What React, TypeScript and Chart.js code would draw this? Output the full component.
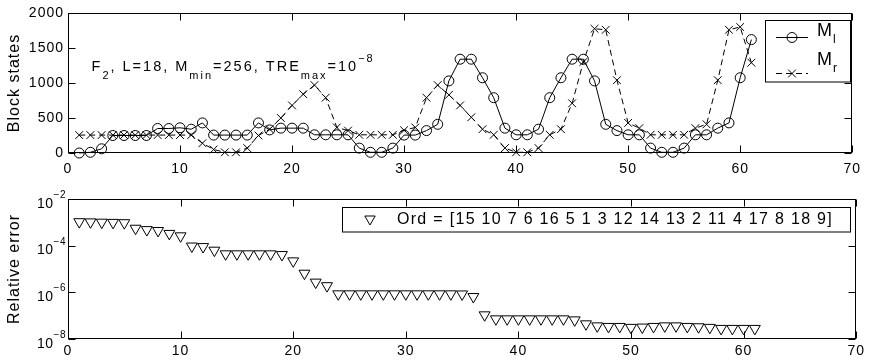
import React, { useEffect, useRef } from 'react';
import { Chart, registerables } from 'chart.js';

Chart.register(...registerables);

const FONT = '"Liberation Sans", Arial, Helvetica, sans-serif';

// ---- data ----
const steps = [
  1, 2, 3, 4, 5, 6, 7, 8, 9, 10, 11, 12, 13, 14, 15, 16, 17, 18, 19, 20,
  21, 22, 23, 24, 25, 26, 27, 28, 29, 30, 31, 32, 33, 34, 35, 36, 37, 38, 39, 40,
  41, 42, 43, 44, 45, 46, 47, 48, 49, 50, 51, 52, 53, 54, 55, 56, 57, 58, 59, 60, 61,
];

const blockStatesLeft = [
  0, 10, 60, 250, 250, 250, 250, 350, 350, 360,
  340, 430, 256, 256, 256, 256, 430, 330, 355, 355,
  355, 260, 260, 260, 260, 70, 10, 10, 70, 256,
  256, 320, 410, 1030, 1340, 1340, 1075, 790, 355, 260,
  260, 340, 790, 1075, 1340, 1340, 1030, 410, 320, 260,
  260, 70, 10, 10, 70, 260, 260, 355, 430, 1075,
  1620,
];

const blockStatesRight = [
  256, 256, 256, 256, 256, 256, 256, 256, 256, 256,
  256, 140, 50, 10, 10, 70, 250, 340, 500, 680,
  840, 970, 790, 365, 320, 260, 260, 260, 260, 325,
  365, 790, 970, 830, 680, 510, 340, 260, 70, 10,
  10, 70, 260, 340, 710, 1300, 1775, 1760, 1040, 430,
  355, 260, 260, 260, 260, 355, 410, 1040, 1760, 1800,
  1290,
];

const relativeError = [
  1.05e-3, 1.03e-3, 1.0e-3, 9.8e-4, 9.5e-4, 5.5e-4, 4.8e-4, 4.4e-4, 3.3e-4, 2.6e-4,
  9.5e-5, 9.0e-5, 6.3e-5, 4.4e-5, 4.4e-5, 4.4e-5, 4.4e-5, 4.4e-5, 4.1e-5, 2.2e-5,
  6.5e-6, 2.7e-6, 1.9e-6, 8.5e-7, 8.5e-7, 8.5e-7, 8.5e-7, 8.5e-7, 8.5e-7, 8.5e-7,
  8.5e-7, 8.5e-7, 8.5e-7, 8.5e-7, 8.4e-7, 6.5e-7, 1.07e-7, 7.2e-8, 7.2e-8, 7.2e-8,
  7.2e-8, 7.2e-8, 7.2e-8, 7.2e-8, 6.5e-8, 4.4e-8, 3.6e-8, 3.4e-8, 3.4e-8, 3.1e-8,
  3.2e-8, 3.4e-8, 3.6e-8, 3.6e-8, 3.4e-8, 3.3e-8, 3.1e-8, 2.8e-8, 2.8e-8, 2.8e-8,
  2.8e-8,
];

const stepTicks = [0, 10, 20, 30, 40, 50, 60, 70];
const blockTicks = [0, 500, 1000, 1500, 2000];
const errorExponents = [-8, -6, -4, -2];

const topLegendSubscripts = ['l', 'r'];
const ordLabel = 'Ord = [15 10 7 6 16 5 1 3 12 14 13 2 11 4 17 8 18 9]';
const topYTitle = 'Block states';
const bottomYTitle = 'Relative error';

type Seg = { text: string; kind: 'main' | 'sub' | 'sup' };
const annotationSegments: Seg[] = [
  { text: 'F', kind: 'main' },
  { text: '2', kind: 'sub' },
  { text: ', L=18, M', kind: 'main' },
  { text: 'min', kind: 'sub' },
  { text: '=256, TRE', kind: 'main' },
  { text: 'max', kind: 'sub' },
  { text: '=10', kind: 'main' },
  { text: '\u22128', kind: 'sup' },
];
const annotationAnchor = { x: 2.1, y: 1175 };

// ---- helpers ----
function setSpacing(ctx: any, v: string) {
  try { ctx.letterSpacing = v; } catch (e) { /* ignore */ }
}

function drawCrossRot(ctx: CanvasRenderingContext2D, x: number, y: number, r: number) {
  const o = r * Math.SQRT1_2;
  ctx.beginPath();
  ctx.moveTo(x - o, y - o); ctx.lineTo(x + o, y + o);
  ctx.moveTo(x - o, y + o); ctx.lineTo(x + o, y - o);
  ctx.stroke();
}

function drawDownTriangle(ctx: CanvasRenderingContext2D, x: number, y: number, r: number) {
  ctx.beginPath();
  ctx.moveTo(x, y + r);
  ctx.lineTo(x - r * 0.866, y - r / 2);
  ctx.lineTo(x + r * 0.866, y - r / 2);
  ctx.closePath();
  ctx.stroke();
}

const spacingPlugin = {
  id: 'spacing',
  beforeUpdate(chart: any) { setSpacing(chart.ctx, '1px'); },
  beforeDraw(chart: any) { setSpacing(chart.ctx, '1px'); },
};

const framePlugin = {
  id: 'matlabFrame',
  afterDraw(chart: any) {
    const { ctx, chartArea: a } = chart;
    const xs = chart.scales.x;
    const ys = chart.scales.y;
    ctx.save();
    ctx.strokeStyle = '#000';
    ctx.lineWidth = 1;
    ctx.setLineDash([]);
    const L = Math.round(a.left) + 0.5;
    const R = Math.round(a.right) - 0.5;
    const T = Math.round(a.top) + 0.5;
    const B = Math.round(a.bottom) - 0.5;
    ctx.strokeRect(L, T, R - L, B - T);
    ctx.beginPath();
    for (const t of xs.ticks) {
      const p = Math.round(xs.getPixelForValue(t.value)) + 0.5;
      ctx.moveTo(p, B); ctx.lineTo(p, B - 7);
      ctx.moveTo(p, T); ctx.lineTo(p, T + 7);
    }
    for (const t of ys.ticks) {
      const p = Math.round(ys.getPixelForValue(t.value)) + 0.5;
      ctx.moveTo(L, p); ctx.lineTo(L + 7, p);
      ctx.moveTo(R, p); ctx.lineTo(R - 7, p);
    }
    ctx.stroke();
    ctx.restore();
  },
};

const annotationPlugin = {
  id: 'annotation',
  afterDraw(chart: any) {
    const { ctx } = chart;
    const xs = chart.scales.x;
    const ys = chart.scales.y;
    let cx = xs.getPixelForValue(annotationAnchor.x);
    const by = ys.getPixelForValue(annotationAnchor.y);
    ctx.save();
    setSpacing(ctx, '2px');
    ctx.fillStyle = '#000';
    ctx.textAlign = 'left';
    ctx.textBaseline = 'alphabetic';
    for (const s of annotationSegments) {
      const size = s.kind === 'main' ? 14.5 : 11;
      const dy = s.kind === 'sub' ? 8.5 : s.kind === 'sup' ? -9 : 0;
      ctx.font = `${size}px ${FONT}`;
      ctx.fillText(s.text, cx, by + dy);
      cx += ctx.measureText(s.text).width;
    }
    ctx.restore();
  },
};

const topLegendPlugin = {
  id: 'topLegend',
  afterDraw(chart: any) {
    const { ctx } = chart;
    ctx.save();
    ctx.fillStyle = '#fff';
    ctx.fillRect(765, 20, 85, 62);
    ctx.strokeStyle = '#000';
    ctx.lineWidth = 1;
    ctx.strokeRect(765.5, 20.5, 85, 61.5);
    const rows = [37.5, 73.5];
    rows.forEach((y, i) => {
      ctx.setLineDash(i === 0 ? [] : [6, 4]);
      ctx.beginPath();
      ctx.moveTo(776, y); ctx.lineTo(808, y);
      ctx.stroke();
      ctx.setLineDash([]);
      if (i === 0) {
        ctx.beginPath();
        ctx.arc(792, y, 5, 0, Math.PI * 2);
        ctx.stroke();
      } else {
        drawCrossRot(ctx, 792, y, 5.5);
      }
      ctx.fillStyle = '#000';
      setSpacing(ctx, '1px');
      ctx.font = `18px ${FONT}`;
      const mb = i === 0 ? 36 : 65;
      ctx.fillText('M', 817, mb);
      const mw = ctx.measureText('M').width;
      ctx.font = `12px ${FONT}`;
      ctx.fillText(topLegendSubscripts[i], 817 + mw, mb + 7);
    });
    ctx.restore();
  },
};

const powerLabelPlugin = {
  id: 'powerLabels',
  afterDraw(chart: any) {
    const { ctx } = chart;
    const ys = chart.scales.y;
    ctx.save();
    setSpacing(ctx, '0.5px');
    ctx.fillStyle = '#000';
    ctx.textAlign = 'left';
    ctx.textBaseline = 'alphabetic';
    for (const e of errorExponents) {
      const py = ys.getPixelForValue(Math.pow(10, e));
      const sup = '\u2212' + Math.abs(e);
      ctx.font = `10px ${FONT}`;
      const sw = ctx.measureText(sup).width;
      ctx.font = `14px ${FONT}`;
      const bw = ctx.measureText('10').width;
      const x0 = 66 - sw - bw;
      ctx.fillText('10', x0, py + 8.5);
      ctx.font = `10px ${FONT}`;
      ctx.fillText(sup, x0 + bw, py - 1);
    }
    ctx.restore();
  },
};

const bottomLegendPlugin = {
  id: 'bottomLegend',
  afterDraw(chart: any) {
    const { ctx } = chart;
    const oy = -180; // bottom canvas starts at page y 180
    ctx.save();
    ctx.fillStyle = '#fff';
    ctx.fillRect(342, 207 + oy, 509, 25);
    ctx.strokeStyle = '#000';
    ctx.lineWidth = 1;
    ctx.strokeRect(342.5, 207.5 + oy, 508, 24.5);
    drawDownTriangle(ctx, 370, 219 + oy, 6);
    ctx.fillStyle = '#000';
    setSpacing(ctx, '1.3px');
    ctx.font = `16px ${FONT}`;
    ctx.textAlign = 'left';
    ctx.textBaseline = 'alphabetic';
    ctx.fillText(ordLabel, 397, 223.5 + oy);
    ctx.restore();
  },
};

const tickFont = { family: FONT, size: 14 };

function xScale(height: number, pad: number) {
  return {
    type: 'linear' as const,
    min: 0,
    max: 70,
    afterBuildTicks: (s: any) => { s.ticks = stepTicks.map((v) => ({ value: v })); },
    afterFit: (s: any) => { s.height = height; },
    grid: { display: false, drawTicks: false },
    border: { display: false },
    ticks: {
      color: '#000', font: tickFont, padding: pad, maxRotation: 0, autoSkip: false,
      callback: (v: any) => String(v),
    },
  };
}

function topConfig(): any {
  return {
    type: 'line',
    data: {
      datasets: [
        {
          label: 'M_l',
          data: steps.map((x, i) => ({ x, y: blockStatesLeft[i] })),
          borderColor: '#000', borderWidth: 1, tension: 0, clip: false,
          pointStyle: 'circle', pointRadius: 5, pointBorderWidth: 1,
          pointBorderColor: '#000', pointBackgroundColor: 'rgba(0,0,0,0)',
        },
        {
          label: 'M_r',
          data: steps.map((x, i) => ({ x, y: blockStatesRight[i] })),
          borderColor: '#000', borderWidth: 1, tension: 0, clip: false,
          borderDash: [6, 4],
          pointStyle: 'crossRot', pointRadius: 5.5, pointBorderWidth: 1,
          pointBorderColor: '#000', pointBackgroundColor: 'rgba(0,0,0,0)',
        },
      ],
    },
    options: {
      responsive: false, animation: false, devicePixelRatio: 1,
      layout: { padding: { left: 0, right: 11, top: 13, bottom: 0 } },
      plugins: { legend: { display: false }, tooltip: { enabled: false } },
      scales: {
        x: xScale(27, 8),
        y: {
          type: 'linear', min: 0, max: 2000,
          afterBuildTicks: (s: any) => { s.ticks = blockTicks.map((v) => ({ value: v })); },
          afterFit: (s: any) => { s.width = 68; },
          grid: { display: false, drawTicks: false },
          border: { display: false },
          ticks: { color: '#000', font: tickFont, padding: 4, callback: (v: any) => String(v) },
          title: {
            display: true, text: topYTitle, color: '#000',
            font: { family: FONT, size: 16 }, padding: { top: 5, bottom: 0 },
          },
        },
      },
    },
    plugins: [spacingPlugin, framePlugin, annotationPlugin, topLegendPlugin],
  };
}

function bottomConfig(): any {
  return {
    type: 'line',
    data: {
      datasets: [
        {
          label: ordLabel,
          data: steps.map((x, i) => ({ x, y: relativeError[i] })),
          showLine: false, clip: false,
          pointStyle: 'triangle', rotation: 180, pointRadius: 6.3, pointBorderWidth: 1,
          pointBorderColor: '#000', pointBackgroundColor: 'rgba(0,0,0,0)',
        },
      ],
    },
    options: {
      responsive: false, animation: false, devicePixelRatio: 1,
      layout: { padding: { left: 0, right: 11, top: 19, bottom: 0 } },
      plugins: { legend: { display: false }, tooltip: { enabled: false } },
      scales: {
        x: xScale(22, 4),
        y: {
          type: 'logarithmic', min: 1e-8, max: 1e-2,
          afterBuildTicks: (s: any) => { s.ticks = errorExponents.map((e) => ({ value: Math.pow(10, e) })); },
          afterFit: (s: any) => { s.width = 68; },
          grid: { display: false, drawTicks: false },
          border: { display: false },
          ticks: { display: false },
          title: {
            display: true, text: bottomYTitle, color: '#000',
            font: { family: FONT, size: 16 }, padding: { top: 5, bottom: 0 },
          },
        },
      },
    },
    plugins: [spacingPlugin, framePlugin, powerLabelPlugin, bottomLegendPlugin],
  };
}

export default function App() {
  const topRef = useRef<HTMLCanvasElement>(null);
  const bottomRef = useRef<HTMLCanvasElement>(null);
  useEffect(() => {
    const top = new Chart(topRef.current as HTMLCanvasElement, topConfig());
    const bottom = new Chart(bottomRef.current as HTMLCanvasElement, bottomConfig());
    return () => { top.destroy(); bottom.destroy(); };
  }, []);
  return (
    <div style={{ position: 'absolute', left: 0, top: 0, width: 869, height: 361, background: '#fff' }}>
      <canvas ref={topRef} width={869} height={180} style={{ position: 'absolute', left: 0, top: 0 }} />
      <canvas ref={bottomRef} width={869} height={181} style={{ position: 'absolute', left: 0, top: 180 }} />
    </div>
  );
}
